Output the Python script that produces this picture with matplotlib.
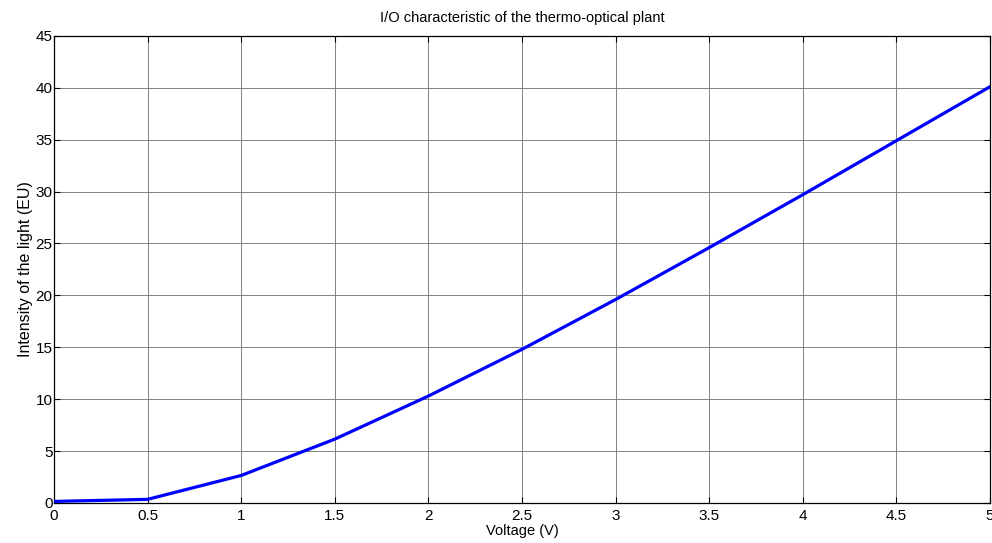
import matplotlib
matplotlib.use("Agg")
import matplotlib.pyplot as plt

plt.rcParams['font.family'] = ['Liberation Sans', 'DejaVu Sans']

voltage = [0, 0.5, 1, 1.5, 2, 2.5, 3, 3.5, 4, 4.5, 5]
intensity = [0.15, 0.35, 2.65, 6.15, 10.3, 14.8, 19.6, 24.6, 29.7, 34.9, 40.1]

fig = plt.figure(figsize=(9.92, 5.43), dpi=100)
ax = fig.add_axes([0.0544, 0.0737, 0.9436, 0.8603])

ax.plot(voltage, intensity, color='#0000ff', linewidth=2.3, zorder=3)

ax.set_xlim(0, 5)
ax.set_ylim(0, 45)
ax.set_xticks([0, 0.5, 1, 1.5, 2, 2.5, 3, 3.5, 4, 4.5, 5])
ax.set_xticklabels(['0', '0.5', '1', '1.5', '2', '2.5', '3', '3.5', '4', '4.5', '5'])
ax.set_yticks(range(0, 46, 5))
ax.grid(True, color='#808080', linewidth=0.7)
ax.tick_params(direction='in', top=True, right=True, labelsize=11, length=4)
ax.tick_params(axis='x', pad=4)
ax.tick_params(axis='y', pad=1)
for s in ax.spines.values():
    s.set_linewidth(0.9)

ax.set_xlabel('Voltage (V)', fontsize=10.5, labelpad=1)
ax.set_ylabel('Intensity of the light (EU)', fontsize=11.5, labelpad=2)
ax.set_title('I/O characteristic of the thermo-optical plant', fontsize=10.5, pad=10)

fig.savefig('out.png', dpi=100)
